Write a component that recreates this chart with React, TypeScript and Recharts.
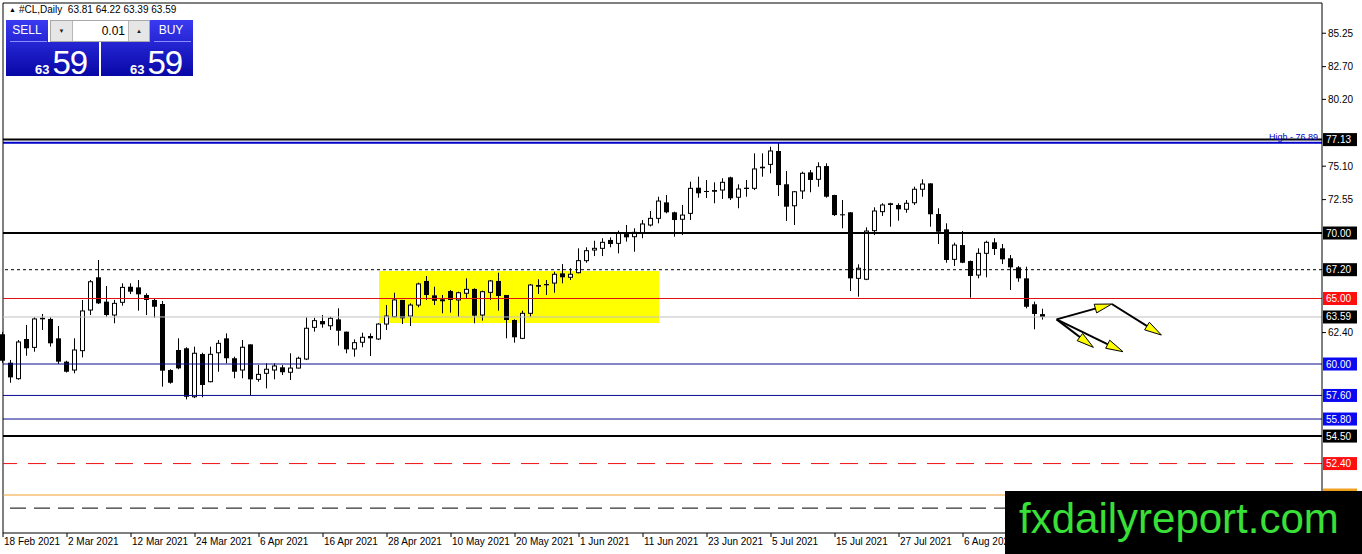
import React from 'react';
import { ComposedChart, Bar, XAxis, YAxis, ReferenceLine, ReferenceArea } from 'recharts';

// bar index of each date label on the time axis
const DATE_TICK_BARS = [0, 8, 16, 24, 32, 40, 48, 56, 64, 72, 80, 88, 96, 104, 112, 120];
const DATE_LABELS = [
  '18 Feb 2021', '2 Mar 2021', '12 Mar 2021', '24 Mar 2021', '6 Apr 2021', '16 Apr 2021',
  '28 Apr 2021', '10 May 2021', '20 May 2021', '1 Jun 2021', '11 Jun 2021', '23 Jun 2021',
  '5 Jul 2021', '15 Jul 2021', '27 Jul 2021', '6 Aug 2021'
];

const OPEN = [
  62.27, 60.10, 58.88, 61.91, 61.27, 63.53, 63.44, 61.96, 60.18, 59.54,
  61.02, 64.12, 66.62, 64.76, 63.74, 64.71, 65.90, 65.85, 65.27, 64.89,
  64.58, 59.54, 61.07, 61.20, 57.50, 60.76, 58.65, 60.86, 61.96, 60.44,
  59.54, 61.50, 58.83, 59.29, 59.54, 59.75, 59.37, 59.69, 60.38, 62.80,
  63.28, 62.92, 63.41, 62.47, 61.15, 61.66, 62.14, 61.91, 63.05, 63.61,
  64.89, 63.66, 64.50, 66.34, 65.24, 64.94, 65.57, 64.89, 65.40, 65.73,
  63.74, 65.47, 66.34, 65.27, 63.36, 61.96, 63.87, 66.03, 66.11, 66.18,
  66.92, 66.62, 66.97, 67.89, 68.70, 68.83, 69.47, 69.21, 69.92, 69.72,
  70.02, 70.61, 71.12, 72.34, 71.58, 71.05, 71.50, 73.46, 73.21, 73.28,
  73.28, 74.25, 72.73, 73.46, 73.41, 75.06, 75.24, 76.26, 73.72, 72.08,
  73.21, 74.63, 74.10, 75.11, 72.90, 71.43, 71.58, 66.54, 66.47, 70.18,
  71.63, 72.27, 72.14, 71.81, 72.31, 73.34, 73.79, 71.45, 70.28, 67.99,
  69.08, 67.86, 66.79, 68.45, 69.29, 68.83, 68.07, 67.38, 66.54, 64.56,
  63.81
];
const HIGH = [
  62.45, 60.31, 61.83, 62.98, 63.56, 63.82, 63.56, 62.90, 60.25, 61.96,
  64.89, 66.41, 67.94, 65.95, 64.89, 66.16, 66.16, 66.41, 65.40, 65.02,
  64.81, 59.60, 61.96, 61.28, 61.32, 60.86, 61.32, 61.83, 62.34, 60.56,
  61.83, 61.50, 59.92, 60.05, 60.05, 59.92, 60.82, 60.56, 63.56, 63.53,
  63.74, 63.61, 64.25, 62.47, 61.88, 62.39, 62.34, 63.11, 64.50, 65.44,
  64.89, 64.63, 66.21, 66.72, 65.90, 65.27, 65.65, 65.52, 66.54, 65.78,
  65.60, 66.41, 66.97, 65.27, 63.41, 64.07, 66.11, 66.47, 66.41, 67.05,
  67.63, 67.31, 68.83, 68.91, 69.41, 69.60, 69.67, 70.18, 70.61, 70.36,
  70.99, 71.68, 72.77, 72.90, 71.63, 72.14, 73.92, 74.30, 74.04, 73.87,
  74.18, 74.30, 73.72, 74.05, 76.08, 76.08, 76.59, 76.89, 74.73, 73.21,
  74.68, 74.81, 75.40, 75.32, 72.92, 72.52, 71.60, 67.61, 70.43, 71.96,
  72.27, 72.31, 72.27, 72.52, 73.54, 74.10, 73.79, 71.89, 70.74, 69.26,
  70.15, 67.90, 68.83, 69.41, 69.60, 69.16, 68.32, 67.48, 67.43, 64.76,
  64.22
];
const LOW = [
  60.10, 58.57, 58.80, 60.63, 60.94, 62.60, 61.33, 60.00, 59.35, 59.29,
  60.51, 63.74, 64.58, 63.61, 63.11, 64.45, 65.34, 64.07, 63.74, 63.53,
  58.27, 58.50, 59.60, 57.30, 57.40, 57.46, 58.60, 59.41, 60.05, 58.91,
  58.91, 57.63, 58.65, 58.14, 58.83, 59.16, 58.78, 59.67, 60.30, 62.47,
  62.77, 62.60, 61.40, 60.82, 60.56, 61.28, 60.61, 61.83, 62.60, 63.56,
  63.05, 62.90, 64.33, 64.89, 64.50, 63.87, 63.92, 63.61, 65.02, 63.11,
  63.31, 64.89, 64.07, 61.96, 61.63, 61.90, 63.61, 65.34, 65.27, 65.44,
  66.16, 66.41, 66.92, 67.73, 68.24, 68.24, 68.91, 68.45, 69.34, 68.57,
  69.60, 70.50, 70.74, 71.50, 69.72, 69.85, 70.99, 72.69, 72.67, 72.27,
  72.60, 72.52, 71.89, 72.77, 73.28, 74.30, 74.56, 72.82, 70.92, 70.61,
  72.60, 73.11, 73.53, 72.70, 71.30, 70.36, 65.57, 65.14, 66.40, 69.85,
  71.30, 70.48, 70.94, 71.55, 72.14, 72.77, 70.48, 69.16, 67.73, 67.48,
  67.70, 65.06, 66.54, 66.62, 68.32, 67.63, 65.65, 66.28, 64.25, 62.65,
  63.39
];
const CLOSE = [
  60.25, 58.98, 61.68, 61.20, 63.44, 63.41, 61.58, 60.18, 59.41, 61.07,
  64.05, 66.28, 64.63, 63.74, 64.63, 65.85, 65.52, 65.32, 64.89, 64.37,
  59.49, 58.57, 59.67, 57.50, 60.82, 58.40, 60.74, 61.58, 60.44, 59.41,
  61.28, 58.83, 59.21, 59.60, 59.85, 59.37, 59.69, 60.44, 62.73, 63.31,
  63.03, 63.49, 62.54, 61.12, 61.63, 62.04, 61.96, 63.05, 63.66, 64.89,
  63.49, 64.50, 66.11, 65.27, 64.83, 64.79, 64.89, 65.44, 65.70, 63.69,
  65.52, 66.34, 65.19, 63.36, 62.04, 63.87, 66.03, 65.90, 66.01, 66.85,
  66.62, 66.85, 67.89, 68.65, 68.83, 69.29, 69.16, 69.97, 69.67, 70.05,
  70.69, 71.12, 72.44, 71.58, 70.99, 71.37, 73.41, 73.03, 73.13, 73.15,
  73.87, 72.65, 73.36, 73.36, 74.89, 74.94, 76.26, 73.66, 72.01, 73.15,
  74.56, 74.05, 75.06, 72.77, 71.37, 71.35, 66.54, 67.31, 70.15, 71.68,
  72.14, 72.14, 71.81, 72.27, 73.34, 73.74, 71.43, 70.10, 67.94, 69.08,
  67.73, 66.72, 68.45, 69.29, 68.78, 67.99, 67.38, 66.54, 64.37, 63.82,
  63.59
];

// price-scale labels that are not covered by a level tag
const PRICE_TICKS = [85.25, 82.7, 80.2, 75.1, 72.55, 62.4];

// horizontal levels drawn on the chart
const LEVEL_NAMES = ['top', 'high', 'r70', 'r672', 'r65', 'bid', 's60', 's576', 's558', 's545', 's524', 's50', 's49'];
const LEVEL_PRICES = [77.13, 76.89, 70.0, 67.2, 65.0, 63.59, 60.0, 57.6, 55.8, 54.5, 52.4, 50.0, 49.0];

// yellow consolidation box: bars and prices
const ZONE_BARS = [47, 82];
const ZONE_PRICES = [63.13, 67.1];

// drawn arrows: [fromBar, fromPrice, toBar, toPrice]
const ARROW_BARS_FROM = [131.7, 138.6, 131.7, 131.7];
const ARROW_PRICES_FROM = [63.41, 64.58, 63.41, 63.41];
const ARROW_BARS_TO = [138.6, 144.8, 136.3, 140.0];
const ARROW_PRICES_TO = [64.58, 62.21, 61.27, 60.94];

const Y_MIN = 47.1;
const Y_MAX = 87.558;
const X_MAX = 164.875;
const FONT = '"Liberation Sans", Arial, sans-serif';

const rows = OPEN.map((open, i) => ({
  i,
  open,
  high: HIGH[i],
  low: LOW[i],
  close: CLOSE[i]
}));

// hideText: the tag sits under the watermark, only its top edge shows
const LEVEL_STYLE: Record<string, any> = {
  top: { stroke: '#000', width: 2, tag: '#000' },
  high: { stroke: '#0000c8', width: 2 },
  r70: { stroke: '#000', width: 2, tag: '#000' },
  r672: { stroke: '#000', width: 1, dash: '3 3', tag: '#000' },
  r65: { stroke: '#e01010', width: 1, tag: '#ff1010' },
  bid: { stroke: '#c0c0c0', width: 1, tag: '#000' },
  s60: { stroke: '#0a0a90', width: 1, tag: '#0a0af0' },
  s576: { stroke: '#0a0a90', width: 1, tag: '#0a0af0' },
  s558: { stroke: '#0a0a90', width: 1, tag: '#0a0af0' },
  s545: { stroke: '#000', width: 2, tag: '#000' },
  s524: { stroke: '#f01010', width: 1, dash: '18 11', tag: '#ff1010' },
  s50: { stroke: '#f0a030', width: 1, tag: '#f0a020', hideText: true },
  s49: { stroke: '#000', width: 1, dash: '16 8' }
};

function Candle(props: any) {
  const { x, y, width, height, payload } = props;
  if (x == null || !payload) return null;
  const { open, close, high, low } = payload;
  const top = Math.min(y, y + height);
  const h = Math.abs(height);
  const cx = Math.floor(x + width / 2) + 0.5;
  const per = high - low > 0 ? h / (high - low) : 0;
  const yOf = (v: number) => top + (high - v) * per;
  const bTop = yOf(Math.max(open, close));
  const bBot = yOf(Math.min(open, close));
  const bull = close >= open;
  return (
    <g>
      <line x1={cx} x2={cx} y1={top} y2={top + h} stroke="#000" strokeWidth={1} />
      {bull ? (
        <rect x={cx - 2} y={bTop} width={4} height={Math.max(1, bBot - bTop)} fill="#fff" stroke="#000" strokeWidth={1} />
      ) : (
        <rect x={cx - 2.5} y={bTop} width={5} height={Math.max(1, bBot - bTop)} fill="#000" />
      )}
    </g>
  );
}

function PriceTag(props: any) {
  const { viewBox, text, bg } = props;
  if (!viewBox) return null;
  const right = viewBox.x + viewBox.width;
  const cy = viewBox.y;
  return (
    <g>
      <rect x={right + 1} y={cy - 6.5} width={34} height={13} fill={bg} />
      {text ? (
        <text x={right + 4} y={cy + 3.5} fontSize={10} fill="#fff" fontFamily={FONT}>{text}</text>
      ) : null}
    </g>
  );
}

function HighText(props: any) {
  const { viewBox } = props;
  if (!viewBox) return null;
  return (
    <text x={viewBox.x + viewBox.width - 4} y={viewBox.y - 3} textAnchor="end" fontSize={9} fill="#0000c8" fontFamily={FONT}>
      High - 76.89
    </text>
  );
}

function ArrowShape(props: any) {
  const { x1, y1, x2, y2 } = props;
  if (x1 == null) return null;
  const a = Math.atan2(y2 - y1, x2 - x1);
  const c = Math.cos(a);
  const s = Math.sin(a);
  const bx = x2 - 17 * c;
  const by = y2 - 17 * s;
  const pts = `${x2},${y2} ${bx - 4.5 * s},${by + 4.5 * c} ${bx + 4.5 * s},${by - 4.5 * c}`;
  return (
    <g>
      <line x1={x1} y1={y1} x2={x2 - 6 * c} y2={y2 - 6 * s} stroke="#000" strokeWidth={2} />
      <polygon points={pts} fill="#ffff00" stroke="#000" strokeWidth={1} />
    </g>
  );
}

function DateTick(props: any) {
  const { x, y, payload } = props;
  const idx = DATE_TICK_BARS.indexOf(payload.value);
  return (
    <text x={x + 1} y={y + 8} fontSize={10} fill="#000" fontFamily={FONT}>
      {DATE_LABELS[idx]}
    </text>
  );
}

function PriceTick(props: any) {
  const { x, y, payload } = props;
  return (
    <text x={x} y={y + 3.5} fontSize={10} fill="#000" fontFamily={FONT}>
      {Number(payload.value).toFixed(2)}
    </text>
  );
}

const blue = 'linear-gradient(to bottom, #3a3af2, #0707a6)';

export default function App() {
  return (
    <div style={{ position: 'absolute', left: 0, top: 0, width: 1362, height: 554, background: '#fff', fontFamily: FONT, overflow: 'hidden' }}>
      <ComposedChart width={1362} height={554} data={rows} margin={{ top: 3, right: 0, left: 3, bottom: 0 }}>
        <XAxis
          dataKey="i"
          type="number"
          domain={[0, X_MAX]}
          ticks={DATE_TICK_BARS}
          interval={0}
          height={21}
          tickSize={4}
          tickMargin={0}
          tick={<DateTick />}
          axisLine={{ stroke: '#000' }}
          tickLine={{ stroke: '#000' }}
        />
        <YAxis
          orientation="right"
          type="number"
          domain={[Y_MIN, Y_MAX]}
          ticks={PRICE_TICKS}
          interval={0}
          width={40}
          tickSize={4}
          tickMargin={2}
          tick={<PriceTick />}
          axisLine={{ stroke: '#000' }}
          tickLine={{ stroke: '#000' }}
        />
        <ReferenceArea
          x1={ZONE_BARS[0]}
          x2={ZONE_BARS[1]}
          y1={ZONE_PRICES[0]}
          y2={ZONE_PRICES[1]}
          fill="#ffff00"
          fillOpacity={1}
          stroke="none"
        />
        <ReferenceLine x={0} stroke="#000" strokeWidth={1} />
        <ReferenceLine y={Y_MAX} stroke="#000" strokeWidth={1} />
        {LEVEL_NAMES.map((name, k) => {
          const st = LEVEL_STYLE[name];
          const price = LEVEL_PRICES[k];
          let label: any = undefined;
          if (st.tag) label = <PriceTag text={st.hideText ? '' : price.toFixed(2)} bg={st.tag} />;
          if (name === 'high') label = <HighText />;
          return (
            <ReferenceLine
              key={name}
              y={price}
              stroke={st.stroke}
              strokeWidth={st.width}
              strokeDasharray={st.dash}
              label={label}
            />
          );
        })}
        <Bar dataKey={(d: any) => [d.low, d.high]} barSize={5} shape={<Candle />} isAnimationActive={false} />
        {ARROW_BARS_FROM.map((b, k) => (
          <ReferenceLine
            key={`arrow-${k}`}
            segment={[
              { x: b, y: ARROW_PRICES_FROM[k] },
              { x: ARROW_BARS_TO[k], y: ARROW_PRICES_TO[k] }
            ]}
            stroke="#000"
            shape={(p: any) => <ArrowShape {...p} />}
          />
        ))}
      </ComposedChart>

      {/* symbol header */}
      <div style={{ position: 'absolute', left: 9, top: 4, fontSize: 10, color: '#000', whiteSpace: 'pre', lineHeight: '12px' }}>
        <span style={{ fontSize: 7, marginRight: 3, position: 'relative', top: -1 }}>▲</span>
        #CL,Daily  63.81 64.22 63.39 63.59
      </div>

      {/* one-click trading panel */}
      <div style={{ position: 'absolute', left: 6, top: 20, width: 188, height: 56 }}>
        <div style={{ position: 'absolute', left: 0, top: 0, width: 93, height: 56, background: blue }} />
        <div style={{ position: 'absolute', left: 95, top: 0, width: 92, height: 56, background: blue }} />
        <div style={{ position: 'absolute', left: 42, top: 0, width: 102, height: 22, background: '#fff' }} />
        <div style={{ position: 'absolute', left: 4, top: 21, width: 37, height: 1, background: '#8a8aff' }} />
        <div style={{ position: 'absolute', left: 148, top: 21, width: 37, height: 1, background: '#8a8aff' }} />
        <div style={{ position: 'absolute', left: 0, top: 3, width: 42, textAlign: 'center', color: '#fff', fontSize: 12 }}>SELL</div>
        <div style={{ position: 'absolute', left: 143, top: 3, width: 44, textAlign: 'center', color: '#fff', fontSize: 12 }}>BUY</div>
        <div style={{ position: 'absolute', left: 44, top: 0, width: 98, height: 20, border: '1px solid #a8a8a8', background: '#fff' }}>
          <div style={{ position: 'absolute', left: 0, top: 0, width: 21, height: 20, background: '#e6e6e6', borderRight: '1px solid #b8b8b8', fontSize: 6, textAlign: 'center', lineHeight: '20px', color: '#222' }}>▼</div>
          <div style={{ position: 'absolute', left: 22, top: 0, width: 52, height: 20, textAlign: 'right', fontSize: 12, lineHeight: '20px', color: '#000' }}>0.01</div>
          <div style={{ position: 'absolute', right: 0, top: 0, width: 20, height: 20, background: '#e6e6e6', borderLeft: '1px solid #b8b8b8', fontSize: 6, textAlign: 'center', lineHeight: '20px', color: '#222' }}>▲</div>
        </div>
        <div style={{ position: 'absolute', left: 29, top: 24, color: '#fff', whiteSpace: 'pre' }}>
          <span style={{ fontSize: 13, fontWeight: 700 }}>63</span>
          <span style={{ fontSize: 33, marginLeft: 3, letterSpacing: -1 }}>59</span>
        </div>
        <div style={{ position: 'absolute', left: 124, top: 24, color: '#fff', whiteSpace: 'pre' }}>
          <span style={{ fontSize: 13, fontWeight: 700 }}>63</span>
          <span style={{ fontSize: 33, marginLeft: 3, letterSpacing: -1 }}>59</span>
        </div>
      </div>

      {/* watermark */}
      <div style={{ position: 'absolute', left: 1005, top: 491, width: 357, height: 63, background: '#000' }}>
        <div style={{ position: 'absolute', left: 14, top: 7, fontSize: 42, lineHeight: '42px', color: '#38e038', whiteSpace: 'nowrap' }}>
          fxdailyreport.com
        </div>
      </div>
    </div>
  );
}
